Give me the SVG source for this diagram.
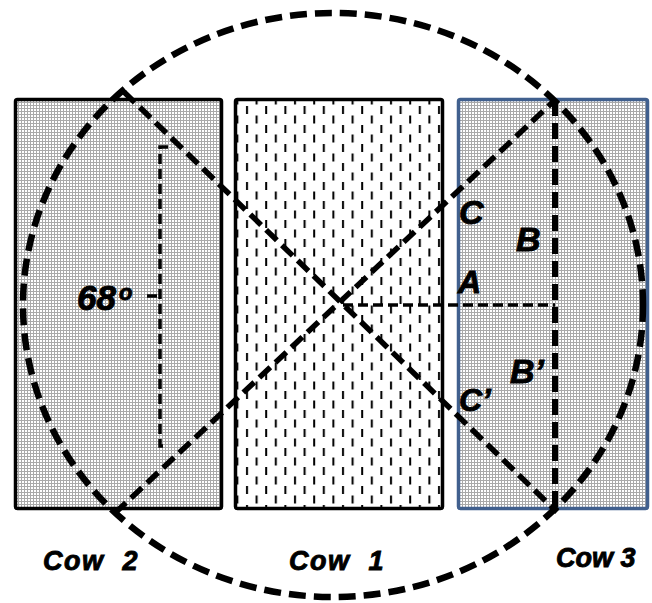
<svg xmlns="http://www.w3.org/2000/svg" width="652" height="603" viewBox="0 0 652 603">
<style>
.lbl{font-family:"Liberation Sans",Arial,sans-serif;font-weight:bold;font-style:italic;fill:#000;stroke:#000;stroke-width:0.9}
.box{stroke-width:3.5;stroke-linejoin:round}
.dash{fill:none;stroke:#000}
</style>
<defs>
<pattern id="dots" patternUnits="userSpaceOnUse" width="3" height="3">
<rect width="3" height="3" fill="#a9a9a9"/>
<rect x="1" y="1" width="2" height="2" fill="#fff"/>
</pattern>
<pattern id="vdash" patternUnits="userSpaceOnUse" x="244" y="100" width="19.2" height="19">
<rect width="19.2" height="19" fill="#fff"/>
<rect x="2" y="6" width="2" height="8" fill="#000"/>
<rect x="11.6" y="15.5" width="2" height="8" fill="#000"/>
<rect x="11.6" y="-3.5" width="2" height="8" fill="#000"/>
</pattern>
</defs>
<g id="cow2"><rect class="box" x="15.5" y="99.5" width="206" height="409" rx="2" fill="url(#dots)" stroke="#000"/></g>
<g id="cow1"><rect class="box" x="235.5" y="99.5" width="207" height="409" rx="2" fill="url(#vdash)" stroke="#000"/></g>
<g id="cow3"><rect class="box" x="458.5" y="99.5" width="189" height="409" rx="2" fill="url(#dots)" stroke="#41608e" stroke-width="3"/></g>
<g id="connectors">
<line class="dash" x1="124" y1="92" x2="557" y2="512" stroke-width="5.5" stroke-dasharray="15 7"/>
<line class="dash" x1="115" y1="513" x2="555" y2="100" stroke-width="5.5" stroke-dasharray="15 7"/>
<line class="dash" x1="343" y1="305" x2="555" y2="305" stroke-width="3.5" stroke-dasharray="10 5"/>
<line class="dash" x1="555" y1="100" x2="555" y2="512" stroke-width="6" stroke-dasharray="16 7"/>
<path class="dash" d="M168,147 L160,147 L160,446 L168,446 M147,296 L160,296" stroke-width="3.5" stroke-dasharray="10 5"/>
<ellipse class="dash" cx="333" cy="305" rx="310" ry="292" stroke-width="6.5" stroke-dasharray="17 8"/>
</g>
<g id="labels">
<text class="lbl" x="77" y="310" font-size="35">68</text>
<text class="lbl" x="119" y="300" font-size="22">o</text>
<text class="lbl" x="459" y="224" font-size="34">C</text>
<text class="lbl" x="516" y="251" font-size="34">B</text>
<text class="lbl" x="458" y="293" font-size="32">A</text>
<text class="lbl" x="510" y="383" font-size="34">B’</text>
<text class="lbl" x="459" y="411" font-size="32">C’</text>
<text class="lbl" x="43" y="570" font-size="27" letter-spacing="1.5" xml:space="preserve">Cow  2</text>
<text class="lbl" x="289" y="570" font-size="27" letter-spacing="1.5" xml:space="preserve">Cow  1</text>
<text class="lbl" x="556" y="567" font-size="27">Cow 3</text>
</g>
</svg>
